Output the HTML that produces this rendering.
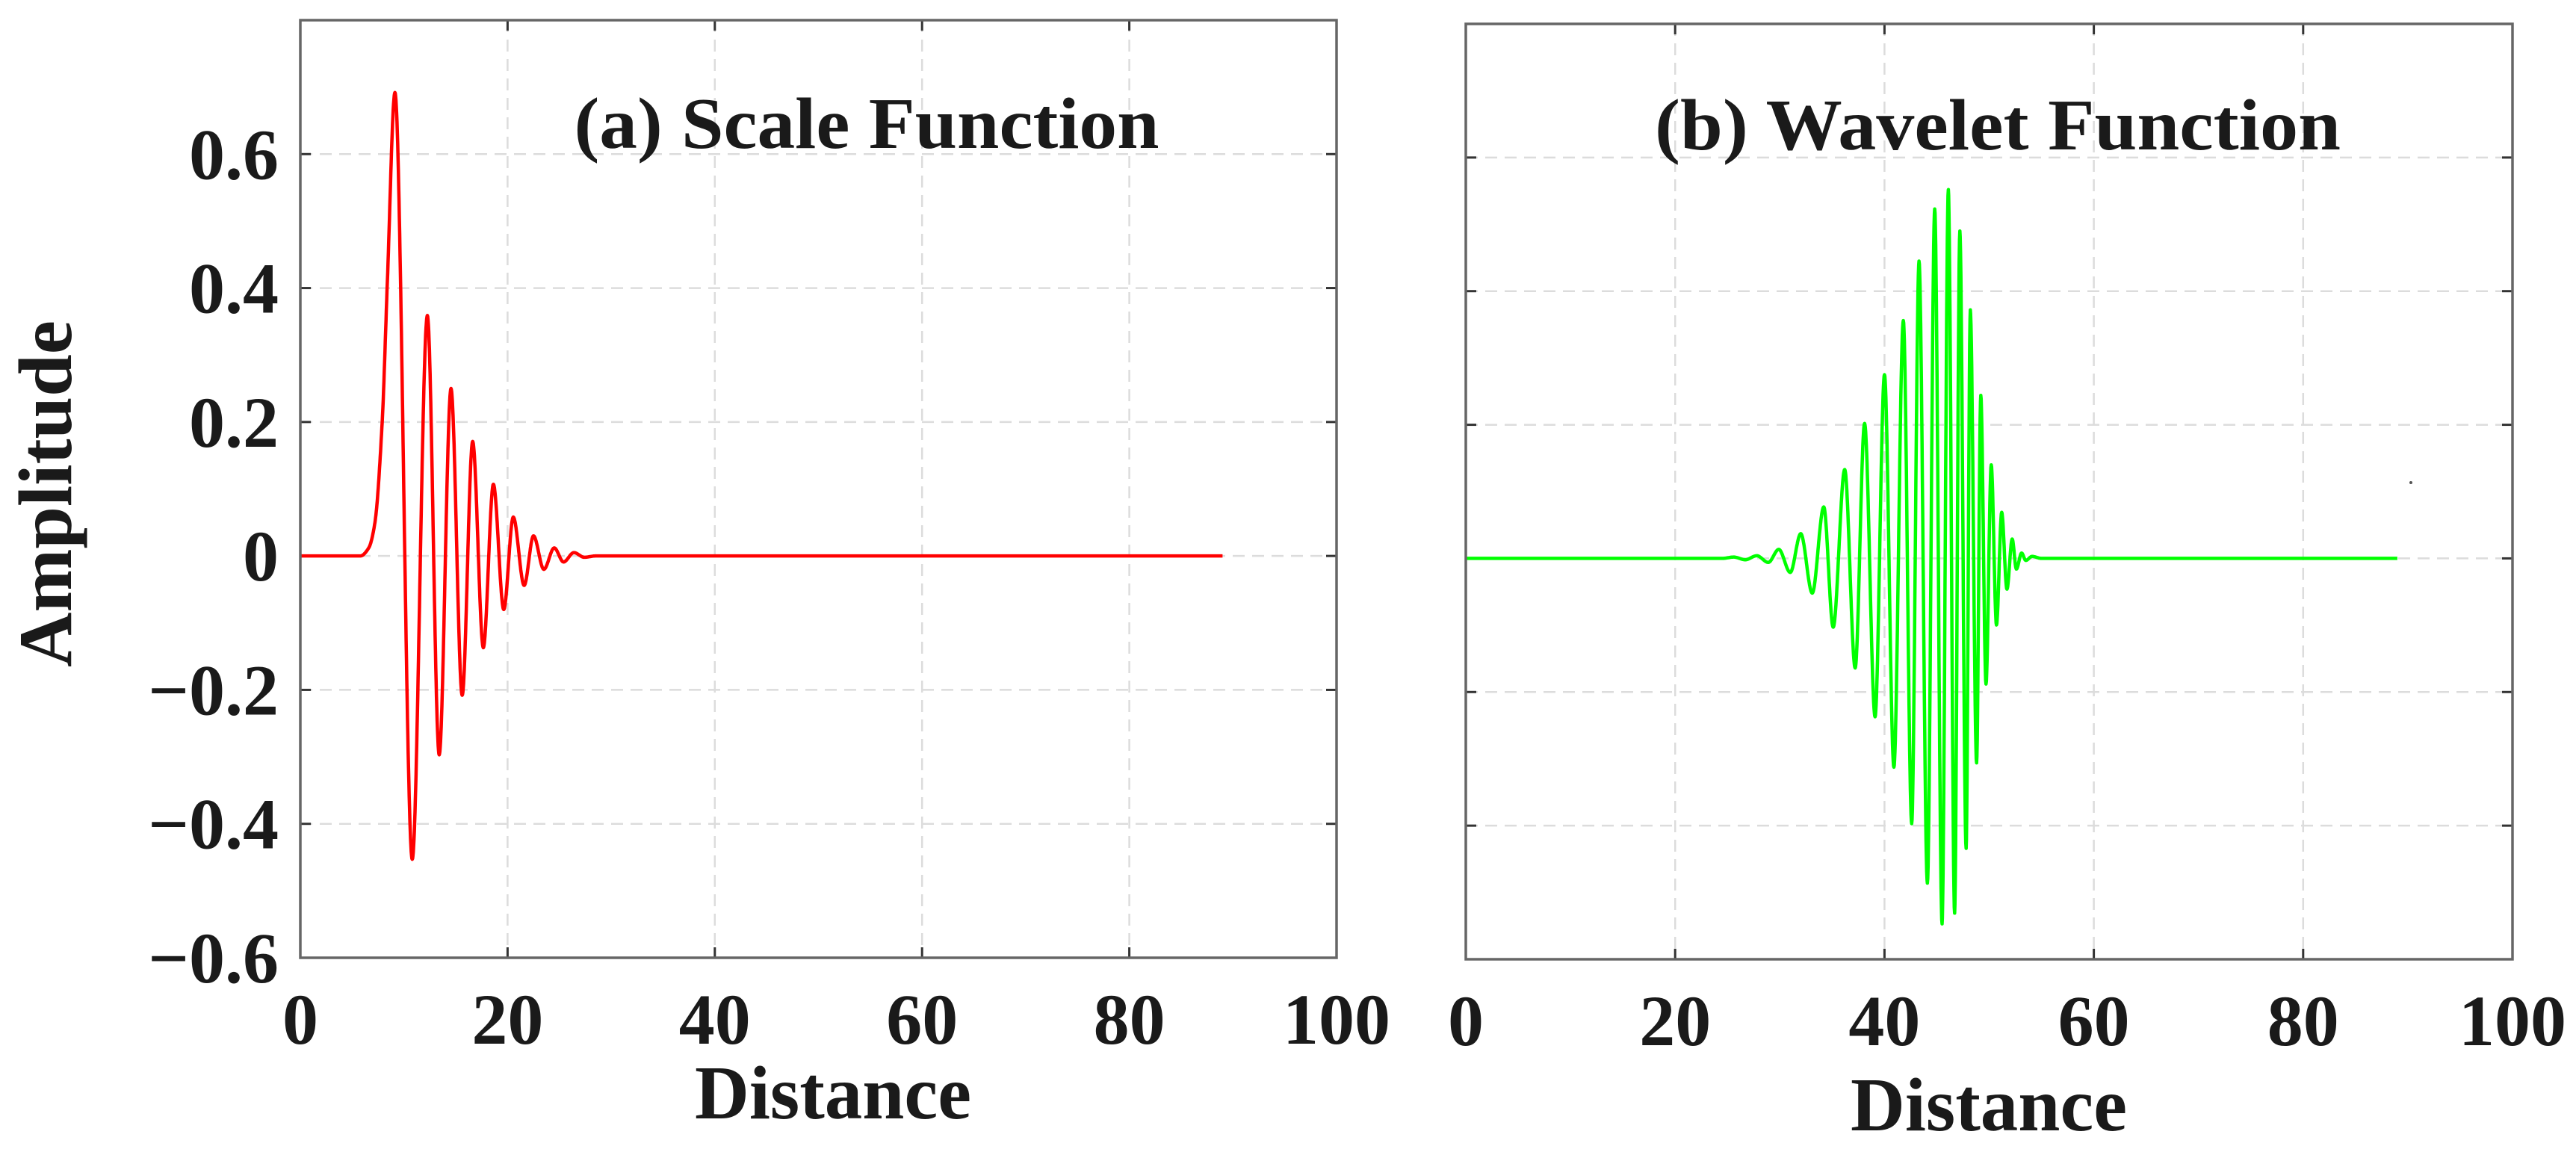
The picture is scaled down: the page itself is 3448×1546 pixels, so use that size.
<!DOCTYPE html>
<html><head><meta charset="utf-8"><style>
html,body{margin:0;padding:0;background:#fff;}
svg{display:block;}
text{font-family:"Liberation Serif",serif;font-weight:bold;fill:#1a1a1a;}
</style></head><body>
<svg id="fig" width="3448" height="1546" viewBox="0 0 3448 1546" xmlns="http://www.w3.org/2000/svg"></svg>
<script>
// ---- data ----
const xTicks = [0, 20, 40, 60, 80, 100];
const yTicks = [-0.6, -0.4, -0.2, 0, 0.2, 0.4, 0.6];
const yTickLabels = ["\u22120.6", "\u22120.4", "\u22120.2", "0", "0.2", "0.4", "0.6"];
const scaleX = [0, 5.8, 6.6, 7.2, 7.9, 8.4, 9.13, 10.8, 12.26, 13.4, 14.54, 15.62, 16.63, 17.66, 18.63, 19.63, 20.55, 21.6, 22.5, 23.5, 24.5, 25.4, 26.4, 27.4, 28.5, 89];
const scaleY = [0, 0, 0.012, 0.05, 0.2, 0.41, 0.692, -0.453, 0.359, -0.297, 0.25, -0.208, 0.171, -0.137, 0.107, -0.08, 0.058, -0.044, 0.03, -0.02, 0.012, -0.009, 0.005, -0.002, 0, 0];
const waveX = [0, 24.5, 25.6, 26.7, 27.8, 28.9, 29.9, 31.0, 32.0, 33.1, 34.2, 35.1, 36.2, 37.2, 38.1, 39.1, 40.0, 40.9, 41.8, 42.6, 43.3, 44.1, 44.8, 45.5, 46.1, 46.7, 47.2, 47.8, 48.2, 48.8, 49.2, 49.7, 50.2, 50.7, 51.2, 51.7, 52.2, 52.6, 53.1, 53.5, 54.1, 55.0, 89];
const waveY = [0, 0, 0.002, -0.002, 0.004, -0.006, 0.0135, -0.021, 0.037, -0.052, 0.077, -0.103, 0.133, -0.164, 0.202, -0.237, 0.275, -0.3125, 0.356, -0.397, 0.445, -0.486, 0.523, -0.547, 0.552, -0.531, 0.49, -0.434, 0.372, -0.306, 0.244, -0.188, 0.14, -0.0997, 0.069, -0.046, 0.029, -0.016, 0.008, -0.003, 0.003, 0, 0];

const NS = "http://www.w3.org/2000/svg";
const svg = document.getElementById('fig');
function el(tag, attrs, parent) {
  const e = document.createElementNS(NS, tag);
  for (const k in attrs) e.setAttribute(k, attrs[k]);
  (parent || svg).appendChild(e);
  return e;
}
function monotone(xs, ys) {
  const n = xs.length, d = [], m = [];
  for (let i = 0; i < n - 1; i++) d.push((ys[i+1]-ys[i])/(xs[i+1]-xs[i]));
  for (let i = 0; i < n; i++) {
    if (i === 0) m.push(d[0]); else if (i === n-1) m.push(d[n-2]);
    else m.push(d[i-1]*d[i] <= 0 ? 0 : 2/(1/d[i-1]+1/d[i]));
  }
  const pts = [];
  for (let i = 0; i < n - 1; i++) {
    const h = xs[i+1]-xs[i], steps = Math.max(2, Math.ceil(h*30));
    for (let s = 0; s < steps; s++) {
      const t = s/steps, t2 = t*t, t3 = t2*t;
      const y = (2*t3-3*t2+1)*ys[i] + (t3-2*t2+t)*h*m[i] + (-2*t3+3*t2)*ys[i+1] + (t3-t2)*h*m[i+1];
      pts.push([xs[i]+t*h, y]);
    }
  }
  pts.push([xs[n-1], ys[n-1]]);
  return pts;
}
function panel(cfg) {
  const g = el('g', {});
  
  
  const sx = v => cfg.L + (v - 0) / 100 * (cfg.R - cfg.L);
  const sy = v => cfg.B - (v + 0.6) / 1.4 * (cfg.B - cfg.T);
  xTicks.slice(1, -1).forEach(t => {
    const l = el('line', {x1: sx(t), x2: sx(t), y1: cfg.T, y2: cfg.B, stroke: '#dcdcdc', 'stroke-width': 2.5, 'stroke-dasharray': '16 10'}, g);
    
    
  });
  yTicks.slice(1).forEach(t => {
    const l = el('line', {x1: cfg.L, x2: cfg.R, y1: sy(t), y2: sy(t), stroke: '#dcdcdc', 'stroke-width': 2.5, 'stroke-dasharray': '16 10'}, g);
    
    
  });
  xTicks.forEach(t => {
    el('line', {x1: sx(t), x2: sx(t), y1: cfg.B, y2: cfg.B - 14, stroke: '#333', 'stroke-width': 3}, g);
    el('line', {x1: sx(t), x2: sx(t), y1: cfg.T, y2: cfg.T + 14, stroke: '#333', 'stroke-width': 3}, g);
  });
  yTicks.forEach(t => {
    el('line', {x1: cfg.L, x2: cfg.L + 14, y1: sy(t), y2: sy(t), stroke: '#333', 'stroke-width': 3}, g);
    el('line', {x1: cfg.R, x2: cfg.R - 14, y1: sy(t), y2: sy(t), stroke: '#333', 'stroke-width': 3}, g);
  });
  const pts = monotone(cfg.xs, cfg.ys);
  const line = el('polyline', {points: pts.map(p => sx(p[0]).toFixed(1) + ',' + sy(p[1]).toFixed(1)).join(' '), fill: 'none', stroke: cfg.color, 'stroke-width': 4.5, 'stroke-linejoin': 'round'}, g);
  
  
  const box = el('rect', {x: cfg.L, y: cfg.T, width: cfg.R - cfg.L, height: cfg.B - cfg.T, fill: 'none', stroke: '#666', 'stroke-width': 3.5}, g);
  
  
  xTicks.forEach(t => {
    const tx = el('text', {x: sx(t), y: cfg.xLabY, 'font-size': 96, 'text-anchor': 'middle'}, g);
    tx.textContent = t;
    
    
  });
  if (cfg.yLabels) {
    yTicks.forEach((t, i) => {
      const tx = el('text', {x: 373, y: sy(t) + 33, 'font-size': 96, 'text-anchor': 'end'}, g);
      tx.textContent = yTickLabels[i];
      
      
    });
  }
  const title = el('text', {x: cfg.titleX, y: cfg.titleY, 'font-size': 97, 'text-anchor': 'middle', textLength: cfg.titleW, lengthAdjust: 'spacingAndGlyphs'}, g);
  title.textContent = cfg.title;
  
  
  const xt = el('text', {x: cfg.xtX, y: cfg.xtY, 'font-size': 102, 'text-anchor': 'middle', textLength: 370, lengthAdjust: 'spacingAndGlyphs'}, g);
  xt.textContent = 'Distance';
  
  
}
panel({name: 'scale-function-panel', seriesName: 'scale-function-line', L: 402, R: 1789, T: 27, B: 1282, xs: scaleX, ys: scaleY, color: '#ff0000', xLabY: 1397, yLabels: true, title: '(a) Scale Function', titleX: 1160, titleY: 198, titleW: 783, xtX: 1115, xtY: 1497});
panel({name: 'wavelet-function-panel', seriesName: 'wavelet-function-line', L: 1962, R: 3363, T: 32, B: 1284, xs: waveX, ys: waveY, color: '#00ff00', xLabY: 1399, yLabels: false, title: '(b) Wavelet Function', titleX: 2674, titleY: 200, titleW: 918, xtX: 2662, xtY: 1513});
const yt = el('text', {x: 0, y: 0, 'font-size': 102, 'text-anchor': 'middle', textLength: 464, lengthAdjust: 'spacingAndGlyphs', transform: 'translate(95,661) rotate(-90)'});
yt.textContent = 'Amplitude';


const dot = el('circle', {cx: 3227, cy: 646, r: 2, fill: '#555'});


</script>
</body></html>
